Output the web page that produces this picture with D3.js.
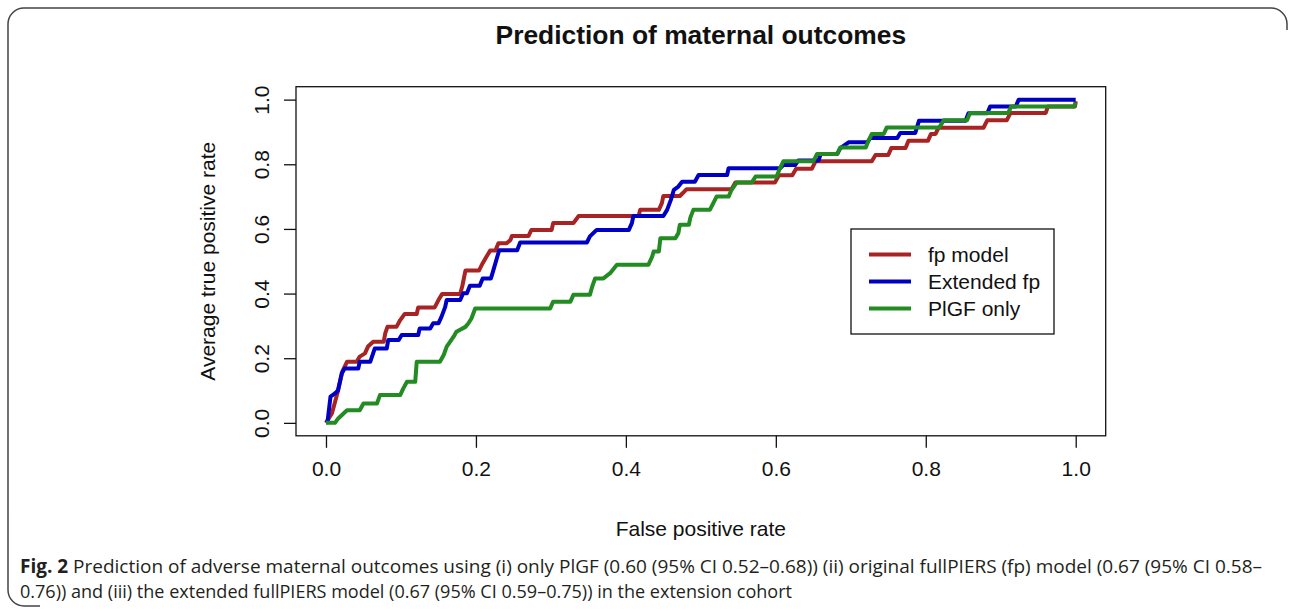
<!DOCTYPE html>
<html>
<head>
<meta charset="utf-8">
<script src="https://cdn.jsdelivr.net/npm/d3@7"></script>
<style>
  body { margin: 0; background: #fff; }
  svg { display: block; font-family: "Liberation Sans", Arial, sans-serif; }
</style>
</head>
<body>
<div id="chart"></div>
<script>
var width = 1292;
var height = 613;

// data: [false positive rate, average true positive rate]
var fpModel = [
  [0,0],[0.008,0.03],[0.015,0.09],[0.022,0.16],[0.028,0.189],[0.041,0.189],[0.045,0.205],
  [0.052,0.215],[0.056,0.236],[0.063,0.251],[0.077,0.251],[0.079,0.277],[0.082,0.297],
  [0.094,0.297],[0.099,0.318],[0.105,0.337],[0.121,0.337],[0.123,0.357],[0.145,0.357],
  [0.150,0.380],[0.155,0.399],[0.179,0.399],[0.182,0.425],[0.186,0.471],[0.204,0.471],
  [0.209,0.494],[0.214,0.514],[0.219,0.533],[0.226,0.533],[0.230,0.556],[0.241,0.556],
  [0.246,0.566],[0.248,0.578],[0.270,0.578],[0.274,0.597],[0.301,0.597],[0.303,0.618],
  [0.330,0.618],[0.337,0.640],[0.417,0.640],[0.419,0.659],[0.444,0.659],[0.448,0.680],
  [0.450,0.702],[0.472,0.702],[0.476,0.711],[0.481,0.723],[0.541,0.723],[0.546,0.744],
  [0.599,0.744],[0.604,0.766],[0.622,0.766],[0.627,0.786],[0.648,0.786],[0.653,0.809],
  [0.728,0.809],[0.733,0.829],[0.750,0.829],[0.754,0.850],[0.773,0.850],[0.777,0.873],
  [0.803,0.873],[0.807,0.894],[0.813,0.894],[0.817,0.913],[0.877,0.913],[0.882,0.936],
  [0.908,0.936],[0.913,0.959],[0.960,0.959],[0.963,0.979],[0.999,0.979],[1.0,0.995]
];
var extendedFp = [
  [0,0],[0.002,0.003],[0.006,0.081],[0.012,0.091],[0.016,0.10],[0.021,0.153],[0.025,0.168],
  [0.043,0.168],[0.045,0.189],[0.059,0.189],[0.065,0.230],[0.081,0.230],[0.083,0.256],
  [0.097,0.256],[0.101,0.272],[0.123,0.272],[0.125,0.292],[0.139,0.292],[0.143,0.308],
  [0.150,0.308],[0.154,0.328],[0.159,0.359],[0.161,0.380],[0.179,0.380],[0.183,0.401],
  [0.188,0.401],[0.192,0.424],[0.205,0.424],[0.209,0.447],[0.220,0.447],[0.223,0.470],
  [0.228,0.510],[0.231,0.534],[0.255,0.534],[0.259,0.558],[0.348,0.558],[0.352,0.577],
  [0.361,0.597],[0.404,0.597],[0.408,0.618],[0.410,0.640],[0.450,0.640],[0.455,0.659],
  [0.460,0.690],[0.464,0.721],[0.470,0.731],[0.475,0.746],[0.492,0.746],[0.497,0.767],
  [0.535,0.767],[0.537,0.788],[0.606,0.788],[0.610,0.798],[0.626,0.798],[0.630,0.812],
  [0.657,0.812],[0.660,0.832],[0.682,0.832],[0.686,0.850],[0.697,0.868],[0.722,0.868],
  [0.726,0.881],[0.762,0.881],[0.766,0.897],[0.786,0.897],[0.791,0.935],[0.853,0.935],
  [0.857,0.958],[0.882,0.958],[0.886,0.979],[0.920,0.979],[0.924,1.0],[1.0,1.0]
];
var plgfOnly = [
  [0,0],[0.012,0],[0.016,0.013],[0.022,0.026],[0.028,0.039],[0.045,0.039],[0.050,0.060],
  [0.068,0.060],[0.072,0.086],[0.099,0.086],[0.103,0.106],[0.108,0.127],[0.119,0.127],
  [0.121,0.189],[0.152,0.189],[0.157,0.210],[0.161,0.236],[0.170,0.266],[0.174,0.282],
  [0.186,0.297],[0.190,0.308],[0.194,0.323],[0.199,0.354],[0.299,0.354],[0.303,0.375],
  [0.326,0.375],[0.330,0.396],[0.352,0.396],[0.355,0.421],[0.359,0.447],[0.370,0.447],
  [0.379,0.463],[0.388,0.489],[0.430,0.489],[0.435,0.514],[0.437,0.530],[0.444,0.530],
  [0.446,0.571],[0.466,0.571],[0.470,0.587],[0.472,0.613],[0.484,0.613],[0.486,0.635],
  [0.490,0.659],[0.512,0.659],[0.521,0.700],[0.537,0.700],[0.541,0.721],[0.548,0.744],
  [0.568,0.744],[0.573,0.762],[0.601,0.762],[0.606,0.790],[0.610,0.809],[0.650,0.809],
  [0.655,0.832],[0.682,0.832],[0.686,0.852],[0.720,0.852],[0.724,0.875],[0.728,0.894],
  [0.744,0.894],[0.748,0.914],[0.818,0.914],[0.824,0.936],[0.855,0.936],[0.859,0.959],
  [0.910,0.959],[0.914,0.979],[0.998,0.979],[1.0,0.99]
];

var seriesNames = ["fp model", "Extended fp", "PlGF only"];
var seriesData = [fpModel, extendedFp, plgfOnly];
var seriesColors = ["#a82323", "#0000c4", "#228b22"];
var tickValues = [0, 0.2, 0.4, 0.6, 0.8, 1.0];

var title = "Prediction of maternal outcomes";
var xTitle = "False positive rate";
var yTitle = "Average true positive rate";
var captionLines = [
  ["Fig. 2", " Prediction of adverse maternal outcomes using (i) only PlGF (0.60 (95% CI 0.52\u20130.68)) (ii) original fullPIERS (fp) model (0.67 (95% CI 0.58\u2013"],
  ["", "0.76)) and (iii) the extended fullPIERS model (0.67 (95% CI 0.59\u20130.75)) in the extension cohort"]
];
var captionWidths = [1242, 772];

var box = { left: 296, right: 1105.7, top: 86.7, bottom: 435.8 };
var fontSize = 21;

var svg = d3.select("#chart").append("svg")
  .attr("width", width)
  .attr("height", height);

// figure frame (rounded, cut at the right side)
var r = 16;
var frame = d3.path();
frame.moveTo(1287, 30);
frame.arcTo(1287, 8, 1287 - r, 8, r);
frame.lineTo(8 + r, 8);
frame.arcTo(8, 8, 8, 8 + r, r);
frame.lineTo(8, 606 - r);
frame.arcTo(8, 606, 8 + r, 606, r);
frame.lineTo(40, 606);
svg.append("path")
  .attr("d", frame.toString())
  .attr("fill", "none")
  .attr("stroke", "#444")
  .attr("stroke-width", 1.5);

var x = d3.scaleLinear().domain([-0.04, 1.04]).range([box.left, box.right]);
var y = d3.scaleLinear().domain([-0.04, 1.04]).range([box.bottom, box.top]);

// axes
var xAxis = svg.append("g")
  .attr("transform", "translate(0," + box.bottom + ")")
  .call(d3.axisBottom(x).tickValues(tickValues).tickSize(12).tickPadding(13).tickFormat(d3.format(".1f")));
xAxis.select(".domain").remove();
xAxis.selectAll("text").attr("font-size", fontSize).attr("fill", "#111");
xAxis.selectAll("line").attr("stroke", "#111").attr("stroke-width", 1.3);

var yAxis = svg.append("g")
  .attr("transform", "translate(" + box.left + ",0)")
  .call(d3.axisLeft(y).tickValues(tickValues).tickSize(12).tickFormat(d3.format(".1f")));
yAxis.select(".domain").remove();
yAxis.selectAll("line").attr("stroke", "#111").attr("stroke-width", 1.3);
yAxis.selectAll("text")
  .attr("x", null)
  .attr("dy", null)
  .attr("font-size", fontSize)
  .attr("fill", "#111")
  .attr("text-anchor", "middle")
  .attr("transform", "translate(-27,0) rotate(-90)");

// curves
var line = d3.line().x(d => x(d[0])).y(d => y(d[1]));
seriesData.forEach((s, i) => {
  svg.append("path")
    .datum(s)
    .attr("d", line)
    .attr("fill", "none")
    .attr("stroke", seriesColors[i])
    .attr("stroke-width", 4)
    .attr("stroke-linejoin", "round");
});

// plot box
svg.append("rect")
  .attr("x", box.left)
  .attr("y", box.top)
  .attr("width", box.right - box.left)
  .attr("height", box.bottom - box.top)
  .attr("fill", "none")
  .attr("stroke", "#111")
  .attr("stroke-width", 1.3);

// titles
svg.append("text")
  .attr("x", (box.left + box.right) / 2)
  .attr("y", 44)
  .attr("text-anchor", "middle")
  .attr("font-size", 26.4)
  .attr("font-weight", "bold")
  .attr("fill", "#111")
  .text(title);

svg.append("text")
  .attr("x", (box.left + box.right) / 2)
  .attr("y", 536)
  .attr("text-anchor", "middle")
  .attr("font-size", fontSize)
  .attr("fill", "#111")
  .text(xTitle);

svg.append("text")
  .attr("transform", "translate(215," + (box.top + box.bottom) / 2 + ") rotate(-90)")
  .attr("text-anchor", "middle")
  .attr("font-size", fontSize)
  .attr("fill", "#111")
  .text(yTitle);

// legend
var legend = svg.append("g").attr("transform", "translate(851,229)");
legend.append("rect")
  .attr("width", 203)
  .attr("height", 105)
  .attr("fill", "#fff")
  .attr("stroke", "#111")
  .attr("stroke-width", 1.3);
seriesNames.forEach((name, i) => {
  var ly = 25.5 + i * 27;
  legend.append("line")
    .attr("x1", 18).attr("x2", 60)
    .attr("y1", ly).attr("y2", ly)
    .attr("stroke", seriesColors[i])
    .attr("stroke-width", 4);
  legend.append("text")
    .attr("x", 77)
    .attr("y", ly)
    .attr("dy", "0.35em")
    .attr("font-size", fontSize)
    .attr("fill", "#111")
    .text(name);
});

// caption
var caption = svg.append("g").attr("font-family", "'Open Sans', 'Noto Sans', sans-serif").attr("fill", "#231f20");
captionLines.forEach((parts, i) => {
  var t = caption.append("text")
    .attr("x", 20)
    .attr("y", 573 + i * 25)
    .attr("font-size", 18.8)
    .attr("textLength", captionWidths[i])
    .attr("lengthAdjust", "spacingAndGlyphs");
  if (parts[0]) t.append("tspan").attr("font-weight", "bold").text(parts[0]);
  t.append("tspan").text(parts[1]);
});
</script>
</body>
</html>
